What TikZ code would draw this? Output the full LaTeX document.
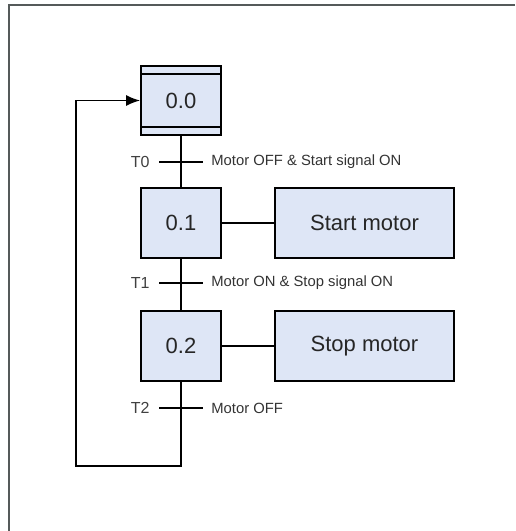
\documentclass[tikz,border=0pt]{standalone}
\usepackage{fontspec}
\setmainfont{Liberation Sans}
\usepackage{xcolor}
\usetikzlibrary{arrows.meta}

\definecolor{stepfill}{RGB}{222,230,246}
\definecolor{framegray}{RGB}{85,90,90}

\begin{document}
\begin{tikzpicture}[x=0.5pt,y=-0.5pt,
  stepbox/.style={draw=black,line width=0.9pt,fill=stepfill,minimum width=40pt,minimum height=35pt,inner sep=0pt,font=\fontsize{11}{13}\selectfont,text=black!85},
  actbox/.style={stepbox,minimum width=89.5pt},
  trbar/.style={line width=1.1pt},
  trlabel/.style={font=\fontsize{8}{10}\selectfont,text=black!75,inner sep=0pt},
  condlabel/.style={font=\fontsize{7.4}{9}\selectfont,text=black!80,inner sep=0pt}]
\useasboundingbox (0,0) rectangle (515,531);
% frame
\draw[framegray,line width=1pt] (9,531) -- (9,5) -- (515,5);
% steps
\node[stepbox,minimum height=34.5pt] (s0) at (181,100.5) {0.0};
\draw[line width=0.9pt] ([yshift=-4.5pt]s0.north west) -- ([yshift=-4.5pt]s0.north east);
\draw[line width=0.9pt] ([yshift=4.5pt]s0.south west) -- ([yshift=4.5pt]s0.south east);
\node[stepbox] (s1) at (181,223) {0.1};
\node[stepbox] (s2) at (181,346) {0.2};
% actions
\node[actbox] (a1) at (364.5,223) {Start motor};
\node[actbox] (a2) at (364.5,346) {Stop motor};
% transitions
\coordinate (t0) at (181,162);
\coordinate (t1) at (181,283);
\coordinate (t2) at (181,408);
\coordinate (lb) at (76,466);
\draw[line width=0.8pt] (s0) -- (s1);
\draw[line width=0.8pt] (s1) -- (s2);
\draw[line width=0.8pt] (s1) -- (a1);
\draw[line width=0.8pt] (s2) -- (a2);
\draw[line width=0.8pt,-{Latex[length=7pt,width=5.5pt]}] (s2.south) |- (lb) |- (s0.west);
\foreach \t/\lab/\cond in {t0/T0/Motor OFF \& Start signal ON,t1/T1/Motor ON \& Stop signal ON,t2/T2/Motor OFF}{
  \draw[trbar] ([xshift=-11pt]\t) -- ([xshift=11pt]\t);
  \node[trlabel,anchor=east] at ([xshift=-15.5pt]\t) {\lab};
  \node[condlabel,anchor=west] at ([xshift=15pt]\t) {\cond};
}
\end{tikzpicture}
\end{document}
